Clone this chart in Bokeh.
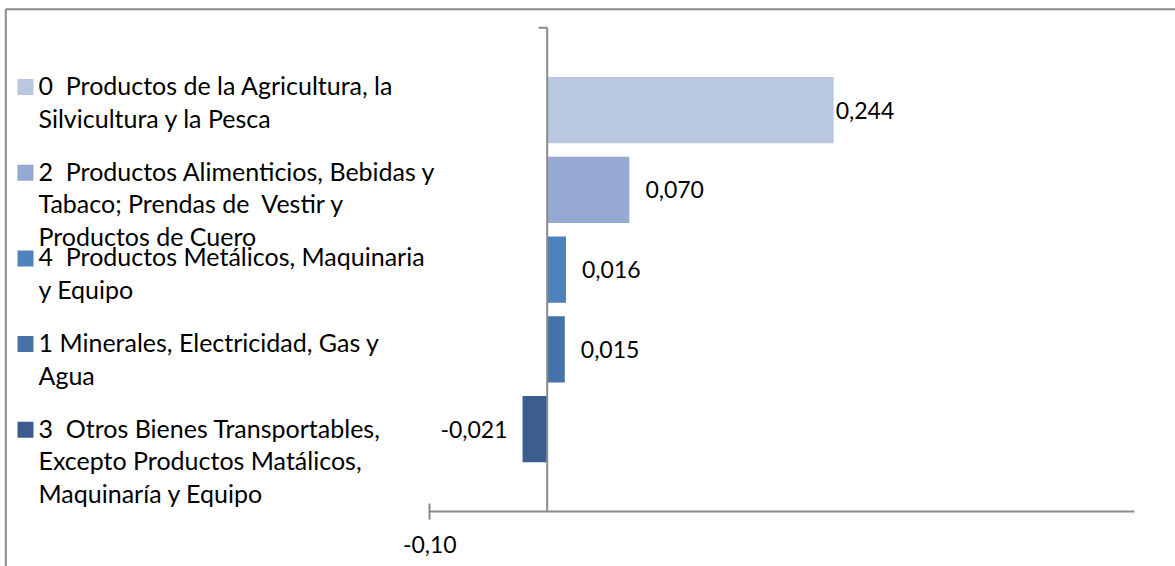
from bokeh.plotting import figure
from bokeh.models import Range1d, LinearAxis, FixedTicker, ColumnDataSource
from bokeh.core.properties import value
from bokeh.embed import file_html
from bokeh.resources import INLINE

# ---------------- data ----------------
categories = [
    "0  Productos de la Agricultura, la\nSilvicultura y la Pesca",
    "2  Productos Alimenticios, Bebidas y\nTabaco; Prendas de  Vestir y\nProductos de Cuero",
    "4  Productos Metálicos, Maquinaria\ny Equipo",
    "1 Minerales, Electricidad, Gas y\nAgua",
    "3  Otros Bienes Transportables,\nExcepto Productos Matálicos,\nMaquinaría y Equipo",
]
values = [0.244, 0.070, 0.016, 0.015, -0.021]
value_labels = ["0,244", "0,070", "0,016", "0,015", "-0,021"]
x_ticks = [-0.10]
x_tick_labels = ["-0,10"]
x_axis_bounds = (-0.10, 0.50)

# ---------------- style ----------------
colors = ["#B9C7E1", "#95A9D3", "#4F81BD", "#4672A9", "#3B5E8E"]
label_offsets = [2, 16, 16, 16, -15]
FONT = "Lato"
AXIS_COLOR = "#8a8a8a"

# screen geometry (page pixels; the page has no margin)
FIG_LEFT, FIG_TOP = 0, 0
W, H = 1175, 566
X0_SCREEN, PX_PER_X = 546.7, 1174.0      # x=0 position, pixels per unit
YTOP_SCREEN, PX_PER_Y = 109.7, 79.75      # centre of top bar, pixels per band
n = len(values)
ytop = n


def dx(sx):
    return (sx - X0_SCREEN) / PX_PER_X


def dy(sy):
    return ytop - (sy - YTOP_SCREEN) / PX_PER_Y


p = figure(
    width=W, height=H, output_backend="svg", toolbar_location=None,
    x_axis_type=None, y_axis_type=None,
    x_range=Range1d(dx(FIG_LEFT), dx(FIG_LEFT + W)),
    y_range=Range1d(dy(FIG_TOP + H), dy(FIG_TOP)),
    min_border=0, outline_line_color=None,
    background_fill_color="white", border_fill_color="white",
)
p.grid.visible = False

ypos = [n - i for i in range(n)]
src = ColumnDataSource(dict(
    y=ypos, value=values, label=value_labels, color=colors,
    xoff=label_offsets,
    align=["left" if v >= 0 else "right" for v in values],
))

# bars
p.hbar(y="y", left=0, right="value", height=0.83, fill_color="color",
       line_color=None, source=src)

# value labels
p.text(x="value", y="y", text="label", x_offset="xoff", text_align="align",
       text_baseline="middle", text_font=value(FONT), text_font_size="23px",
       text_color="#000000", source=src)

# x axis (fixed at the bottom of the plot area)
AXIS_Y = dy(511)
xaxis = LinearAxis(
    fixed_location=AXIS_Y,
    ticker=FixedTicker(ticks=x_ticks, minor_ticks=[]),
    major_label_overrides={t: l for t, l in zip(x_ticks, x_tick_labels)},
    bounds=x_axis_bounds,
    axis_line_color=AXIS_COLOR, axis_line_width=2,
    major_tick_line_color=AXIS_COLOR, major_tick_line_width=2,
    major_tick_in=8, major_tick_out=8, minor_tick_line_color=None,
    major_label_text_font=FONT, major_label_text_font_size="23px",
    major_label_text_color="#000000", major_label_standoff=16,
)
p.add_layout(xaxis, "below")

# vertical (category) axis line at x = 0
p.segment(x0=[0], y0=[AXIS_Y], x1=[0], y1=[dy(27.3)],
          line_color=AXIS_COLOR, line_width=2)
p.segment(x0=[dx(538)], y0=[dy(27.3)], x1=[0], y1=[dy(27.3)],
          line_color=AXIS_COLOR, line_width=2)

# chart border (top and left visible)
p.segment(x0=[dx(5), dx(5.3)], y0=[dy(8.7), dy(8.7)], x1=[dx(W), dx(5.3)],
          y1=[dy(8.7), dy(H)], line_color="#8c8c8c", line_width=2)

# legend (manual, Excel style)
LEG_FIRST, LEG_STEP, LINE_STEP = 86.5, 85.7, 32.6
TEXT_SHIFT = -2
sq_x, sq_y, tx, ty, tt = [], [], [], [], []
for i, cat in enumerate(categories):
    y0 = LEG_FIRST + i * LEG_STEP
    sq_x.append(dx(25))
    sq_y.append(dy(y0))
    for j, line in enumerate(cat.split("\n")):
        tx.append(dx(38))
        ty.append(dy(y0 + TEXT_SHIFT + j * LINE_STEP))
        tt.append(line.replace("  ", "\u00a0 "))
p.scatter(x=sq_x, y=sq_y, marker="square", size=16, fill_color=colors,
          line_color=None)
p.text(x=tx, y=ty, text=tt, text_align="left", text_baseline="middle",
       text_font=value(FONT), text_font_size="25px", text_color="#000000")

open("out.html", "w").write(file_html(p, INLINE))
